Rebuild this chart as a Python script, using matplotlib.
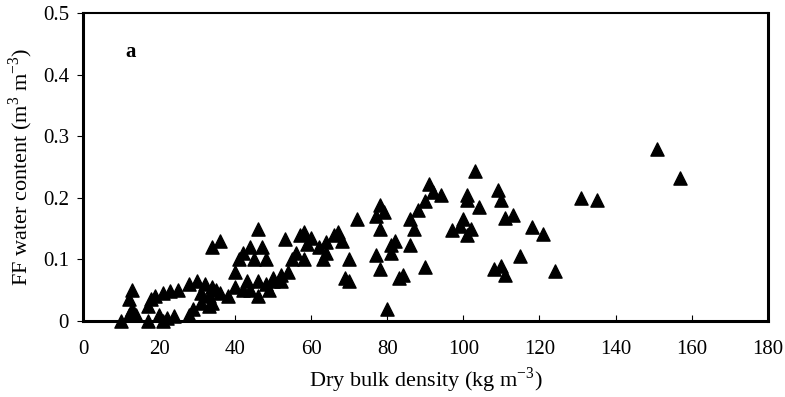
import matplotlib.pyplot as plt

# Densidad aparente seca (kg m-3) y contenido de agua FF (m3 m-3)
densidad = [151, 157, 131, 135, 124, 121, 118, 115, 113, 111, 109, 110,
            108, 110, 111, 103, 104, 101, 101, 100, 101, 102, 99, 97, 94,
            91, 92, 90, 90, 88, 86, 87, 86, 84, 83, 82, 81, 80, 81,
            79, 78, 77, 78, 77, 78, 72, 70, 69, 70, 68, 67, 66, 64, 64,
            62, 63, 60, 59, 58, 57, 58, 56, 55, 53, 46,
            41, 42, 44, 47, 45, 48, 40, 43, 46, 48, 50, 52, 54, 49, 44,
            42, 38, 40, 46, 50, 52, 36, 34,
            28, 30, 32, 34, 31, 33, 35, 29, 28, 31, 34, 36, 33,
            13, 12, 13, 12, 10, 14, 17, 18, 19, 21, 23, 25, 17, 20, 22, 24, 21]
agua = [0.280, 0.232, 0.200, 0.196, 0.082, 0.142, 0.153, 0.105, 0.172, 0.168,
        0.213, 0.197, 0.085, 0.090, 0.075, 0.243, 0.185, 0.205, 0.197, 0.165,
        0.140, 0.150, 0.155, 0.147, 0.205, 0.222, 0.210, 0.195, 0.088, 0.180,
        0.165, 0.150, 0.123, 0.075, 0.070, 0.130, 0.123, 0.020, 0.110,
        0.177, 0.188, 0.170, 0.150, 0.108, 0.085, 0.165, 0.100, 0.070, 0.065,
        0.130, 0.145, 0.140, 0.110, 0.128, 0.120, 0.100, 0.135, 0.125, 0.145,
        0.140, 0.100, 0.110, 0.100, 0.133, 0.150,
        0.100, 0.110, 0.120, 0.120, 0.100, 0.100, 0.080, 0.065, 0.065, 0.060,
        0.070, 0.075, 0.080, 0.050, 0.050, 0.050, 0.040, 0.055, 0.040, 0.065,
        0.065, 0.130, 0.120,
        0.060, 0.065, 0.060, 0.055, 0.045, 0.040, 0.050, 0.020, 0.010, 0.030,
        0.030, 0.045, 0.025,
        0.050, 0.035, 0.020, 0.010, 0.000, 0.010, 0.025, 0.035, 0.040, 0.045,
        0.048, 0.050, 0.000, 0.010, 0.005, 0.008, 0.000]

xticks = [0, 20, 40, 60, 80, 100, 120, 140, 160, 180]
yticks = [0, 0.1, 0.2, 0.3, 0.4, 0.5]
ytick_labels = ['0', '0.1', '0.2', '0.3', '0.4', '0.5']

plt.rcParams['font.family'] = ['Liberation Serif', 'DejaVu Serif']

fig = plt.figure(figsize=(7.85, 3.97), dpi=100)
ax = fig.add_axes([0.1057, 0.1914, 0.8723, 0.7756])

ax.scatter(densidad, agua, marker='^', s=90, color='black', clip_on=False, zorder=3)

ax.set_xlim(0, 180)
ax.set_ylim(0, 0.5)
ax.set_xticks(xticks)
ax.set_xticklabels([str(t) for t in xticks])
ax.set_yticks(yticks)
ax.set_yticklabels(ytick_labels)
ax.tick_params(axis='x', direction='in', length=4, labelsize=15, pad=14)
ax.tick_params(axis='y', direction='out', length=4, labelsize=15, pad=6)

for lado in ['left', 'bottom', 'right']:
    ax.spines[lado].set_linewidth(2.2)
ax.spines['top'].set_linewidth(1.5)

ax.set_xlabel('Dry bulk density (kg m$^{\\mathregular{-3}}$)', fontsize=16, labelpad=4)
ax.set_ylabel('FF water content (m$^{\\mathregular{3}}$ m$^{\\mathregular{-3}}$)', fontsize=16, labelpad=6)
ax.text(12.4, 0.437, 'a', fontsize=15, fontweight='bold', ha='center', va='center')

fig.savefig('out.png', dpi=100)
